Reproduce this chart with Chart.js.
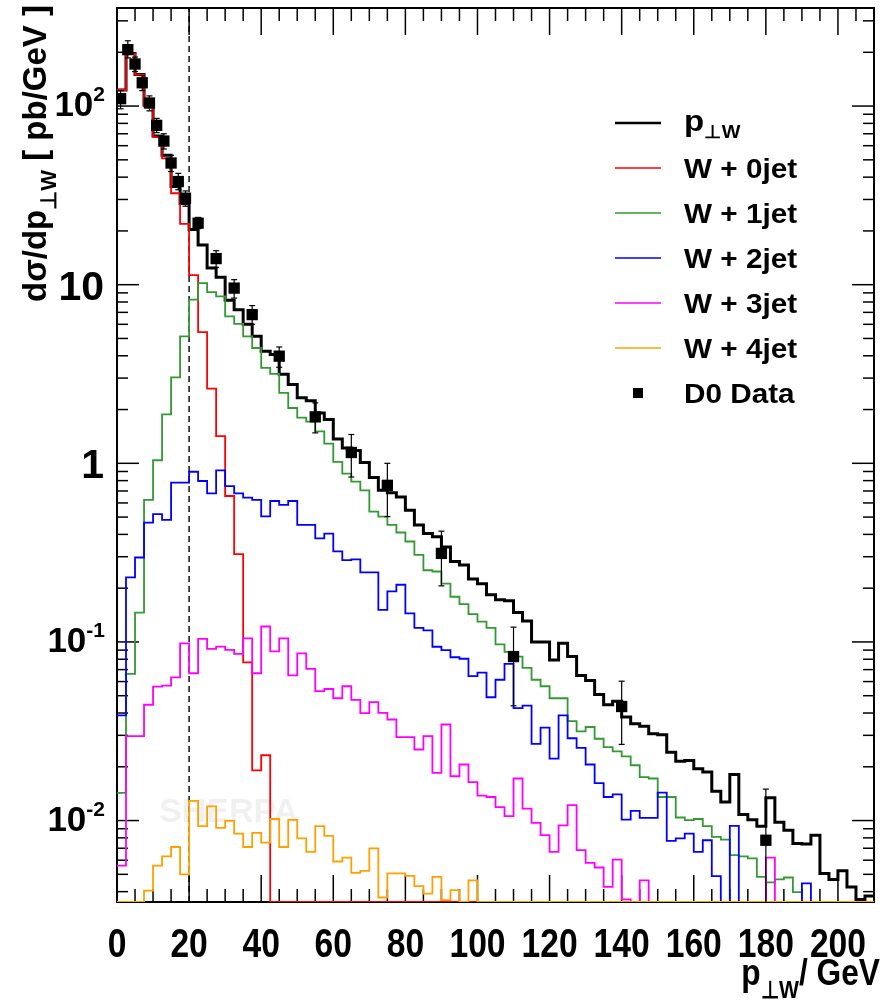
<!DOCTYPE html>
<html>
<head>
<meta charset="utf-8">
<script src="https://cdn.jsdelivr.net/npm/chart.js@4.4.1/dist/chart.umd.min.js"></script>
<style>
  html, body { margin: 0; padding: 0; background: #fff; }
  canvas { display: block; }
</style>
</head>
<body>
<canvas id="chart" width="882" height="1007"></canvas>
<script>
"use strict";

// ビン幅と軸範囲
const BIN_WIDTH = 2.5;
const X_MIN = 0, X_MAX = 210;
const Y_MIN = 0.0035, Y_MAX = 354;

// p_perp W 合計
const totalPt = [
  123, 197, 150, 101, 68, 53, 35.4, 28.5, 20.4, 16.7,
  12.4, 11.0, 8.18, 7.25, 6.0, 5.15, 4.24, 4.07, 3.15, 2.76,
  2.33, 2.24, 1.91, 1.76, 1.37, 1.22, 1.18, 1.01, 0.832, 0.707,
  0.685, 0.648, 0.546, 0.452, 0.404, 0.388, 0.34, 0.282, 0.27, 0.225,
  0.212, 0.184, 0.172, 0.17, 0.146, 0.131, 0.1, 0.1, 0.0793, 0.0982,
  0.0828, 0.0649, 0.0608, 0.0508, 0.0445, 0.0465, 0.038, 0.0348, 0.0337, 0.0306,
  0.0302, 0.0241, 0.0215, 0.0217, 0.0195, 0.0187, 0.0146, 0.0127, 0.0181, 0.0108,
  0.0101, 0.0093, 0.0134, 0.0098, 0.00883, 0.00745, 0.0074, 0.00828, 0.00506, 0.00468,
  0.00523, 0.00425, 0.00362, 0.00378
];
// W + 0jet
const w0jet = [
  123, 196, 150, 100, 67, 51, 32.5, 21.9, 11.3, 5.43,
  2.62, 1.42, 0.656, 0.31, 0.0769, 0.0191, 0.0232, 0, 0, 0,
  0, 0, 0, 0, 0, 0, 0, 0, 0, 0,
  0, 0, 0, 0, 0, 0, 0, 0, 0, 0,
  0, 0, 0, 0, 0, 0, 0, 0, 0, 0,
  0, 0, 0, 0, 0, 0, 0, 0, 0, 0,
  0, 0, 0, 0, 0, 0, 0, 0, 0, 0,
  0, 0, 0, 0, 0, 0, 0, 0, 0, 0,
  0, 0, 0, 0
];
// W + 1jet
const w1jet = [
  0.0143, 0.0662, 0.146, 0.624, 1.04, 1.88, 3.03, 5.14, 8.24, 10.2,
  9.09, 8.6, 6.65, 6.03, 5.14, 4.42, 3.42, 3.17, 2.48, 2.04,
  1.80, 1.71, 1.51, 1.29, 1.02, 0.875, 0.789, 0.706, 0.537, 0.503,
  0.452, 0.41, 0.365, 0.307, 0.252, 0.248, 0.212, 0.179, 0.163, 0.143,
  0.130, 0.12, 0.097, 0.088, 0.0828, 0.0716, 0.0614, 0.0565, 0.0484, 0.0484,
  0.036, 0.0316, 0.0334, 0.0287, 0.0258, 0.0244, 0.0229, 0.0204, 0.0175, 0.0172,
  0.01355, 0.01355, 0.0104, 0.01005, 0.0102, 0.0093, 0.0081, 0.00783, 0.0064, 0.0063,
  0.00614, 0.00484, 0.00451, 0.00468, 0.0048, 0.00398, 0, 0, 0, 0,
  0, 0, 0, 0
];
// W + 2jet
const w2jet = [
  0.0388, 0.23, 0.297, 0.466, 0.519, 0.482, 0.78, 0.78, 0.897, 0.796,
  0.679, 0.914, 0.746, 0.679, 0.643, 0.624, 0.504, 0.615, 0.585, 0.615,
  0.452, 0.452, 0.38, 0.404, 0.321, 0.287, 0.29, 0.245, 0.245, 0.151,
  0.192, 0.209, 0.1445, 0.12, 0.116, 0.094, 0.090, 0.0821, 0.0805, 0.0644,
  0.0674, 0.049, 0.0614, 0.0754, 0.0426, 0.044, 0.0269, 0.0331, 0.0222, 0.0388,
  0.0289, 0.0255, 0.0206, 0.0162, 0.01355, 0.0140, 0.01013, 0.01132, 0.01035, 0.01035,
  0.01432, 0.00769, 0.00794, 0.00846, 0.00668, 0.00776, 0.00489, 0, 0.00933, 0,
  0, 0, 0, 0, 0, 0, 0.00445, 0, 0, 0,
  0, 0, 0, 0
];
// W + 3jet
const w3jet = [
  0.0056, 0.0297, 0.0297, 0.0445, 0.0562, 0.057, 0.0634, 0.0982, 0.0668, 0.104,
  0.0914, 0.0942, 0.0902, 0.0857, 0.1048, 0.0668, 0.122, 0.0886, 0.1048, 0.0649,
  0.0863, 0.0707, 0.053, 0.0545, 0.0484, 0.0565, 0.0474, 0.0399, 0.046, 0.0401,
  0.0368, 0.0293, 0.0293, 0.025, 0.0297, 0.0185, 0.0345, 0.0177, 0.0206, 0.0164,
  0.0138, 0.01355, 0.0119, 0.0106, 0.0172, 0.01167, 0.0097, 0.00828, 0.00668, 0.0094,
  0.0122, 0.00683, 0.0058, 0.00546, 0.00425, 0.00605, 0.00362, 0, 0.00463, 0,
  0, 0, 0, 0, 0, 0, 0, 0, 0, 0,
  0, 0, 0.0062, 0, 0, 0, 0, 0, 0, 0,
  0, 0, 0, 0
];
// W + 4jet
const w4jet = [
  0, 0, 0, 0.00405, 0.0056, 0.0063, 0.00711, 0.005, 0.0129, 0.0093,
  0.012, 0.0091, 0.00995, 0.00846, 0.00711, 0.00853, 0.00753, 0.0102, 0.00711, 0.0101,
  0.00794, 0.00668, 0.0093, 0.0082, 0.0059, 0.0062, 0.0051, 0.00523, 0.00698, 0.00371,
  0.00506, 0.00506, 0.0049, 0.0043, 0.0039, 0.00484, 0.00359, 0.00408, 0, 0.00463,
  0, 0, 0, 0, 0, 0, 0, 0, 0, 0,
  0, 0, 0, 0, 0, 0, 0, 0, 0, 0,
  0, 0, 0, 0, 0, 0, 0, 0, 0, 0,
  0, 0, 0, 0, 0, 0, 0, 0, 0, 0,
  0, 0, 0, 0
];

// D0 データ点と誤差
const d0X  = [1, 3, 5, 7, 9, 11, 13, 15, 17, 19, 22.5, 27.5, 32.5, 37.5, 45, 55, 65, 75, 90, 110, 140, 180];
const d0Y  = [110, 207, 172, 135, 104, 78, 63.7, 48, 37.8, 30.5, 22.1, 14.0, 9.57, 6.8, 3.98, 1.82, 1.15, 0.753, 0.313, 0.0828, 0.0435, 0.00776];
const d0Hi = [122, 232, 188, 148, 114, 85.3, 70, 53, 42, 33.5, 23.8, 15.5, 10.67, 7.64, 4.48, 2.18, 1.45, 1.0, 0.417, 0.121, 0.0603, 0.0150];
const d0Lo = [96.5, 186, 156, 122, 94, 71, 57.5, 43, 34, 27.5, 20.6, 12.5, 8.41, 6.0, 3.45, 1.48, 0.838, 0.503, 0.206, 0.0439, 0.0267, 0];

// 目盛りラベル
const xLabelValues = [0, 20, 40, 60, 80, 100, 120, 140, 160, 180, 200];
const yLabelValues = [100, 10, 1, 0.1, 0.01];
const yLabelBase   = ["10", "10", "1", "10", "10"];
const yLabelSup    = ["2", "", "", "-1", "-2"];

// 凡例
const legendNames  = ["p", "W + 0jet", "W + 1jet", "W + 2jet", "W + 3jet", "W + 4jet", "D0 Data"];
const seriesColors = ["#000000", "#ff0000", "#339933", "#0000ff", "#ff00ff", "#ffa000"];

const FONT = "'Liberation Sans', Arial, sans-serif";

// ヒストグラム -> 階段状の点列 (各ビンの左端に値を置く)
function toSteps(values) {
  const pts = values.map((v, i) => ({ x: X_MIN + i * BIN_WIDTH, y: v > 0 ? v : Y_MIN }));
  const last = values[values.length - 1];
  pts.push({ x: X_MIN + values.length * BIN_WIDTH, y: last > 0 ? last : Y_MIN });
  return pts;
}

function histDataset(label, values, color, width) {
  return {
    label: label,
    data: toSteps(values),
    borderColor: color,
    backgroundColor: color,
    borderWidth: width,
    stepped: "before",
    pointRadius: 0,
    fill: false
  };
}

// 添字つき文字列を描く
function drawRich(ctx, segs, x, y, align, sx) {
  sx = sx || 1;
  let w = 0;
  segs.forEach(s => { ctx.font = s.font; w += ctx.measureText(s.text).width; });
  ctx.save();
  ctx.translate(x, y);
  ctx.scale(sx, 1);
  let cx = align === "right" ? -w : (align === "center" ? -w / 2 : 0);
  ctx.textAlign = "left";
  ctx.textBaseline = "alphabetic";
  segs.forEach(s => {
    ctx.font = s.font;
    ctx.fillText(s.text, cx, s.dy || 0);
    cx += ctx.measureText(s.text).width;
  });
  ctx.restore();
  return w * sx;
}

function line(ctx, x1, y1, x2, y2) {
  ctx.beginPath();
  ctx.moveTo(x1, y1);
  ctx.lineTo(x2, y2);
  ctx.stroke();
}

// 枠・目盛り・透かし
const framePlugin = {
  id: "frame",
  beforeDraw(chart) {
    const ctx = chart.ctx;
    ctx.save();
    ctx.fillStyle = "#fff";
    ctx.fillRect(0, 0, chart.width, chart.height);
    ctx.restore();
  },
  beforeDatasetsDraw(chart) {
    const ctx = chart.ctx;
    const { left, right, top, bottom } = chart.chartArea;
    const xs = chart.scales.x, ys = chart.scales.y;
    ctx.save();
    // 透かし
    ctx.fillStyle = "rgba(0,0,0,0.06)";
    ctx.font = "bold 34px " + FONT;
    ctx.fillText("SHERPA", 159, 822);

    ctx.strokeStyle = "#000";
    ctx.lineWidth = 2;
    ctx.strokeRect(left, top, right - left, bottom - top);
    ctx.lineWidth = 1.5;
    for (let v = X_MIN; v <= X_MAX; v += 5) {
      const px = xs.getPixelForValue(v);
      const len = v % 20 === 0 ? 27 : 13;
      line(ctx, px, bottom, px, bottom - len);
      line(ctx, px, top, px, top + len);
    }
    for (let k = -3; k <= 2; k++) {
      for (let m = 1; m <= 9; m++) {
        const v = m * Math.pow(10, k);
        if (v < Y_MIN || v > Y_MAX) continue;
        const py = ys.getPixelForValue(v);
        const len = m === 1 ? 22 : 11;
        line(ctx, left, py, left + len, py);
        line(ctx, right, py, right - len, py);
      }
    }
    ctx.restore();
  },
  afterDatasetsDraw(chart) {
    const ctx = chart.ctx;
    const { bottom } = chart.chartArea;
    const xs = chart.scales.x, ys = chart.scales.y;
    ctx.save();
    // 誤差棒
    ctx.strokeStyle = "#000";
    ctx.lineWidth = 1.2;
    d0X.forEach((xv, i) => {
      const px = xs.getPixelForValue(xv);
      const hi = ys.getPixelForValue(d0Hi[i]);
      const lo = d0Lo[i] > 0 ? ys.getPixelForValue(d0Lo[i]) : bottom;
      line(ctx, px, hi, px, lo);
      line(ctx, px - 3, hi, px + 3, hi);
      if (d0Lo[i] > 0) line(ctx, px - 3, lo, px + 3, lo);
    });

    ctx.fillStyle = "#000";
    // y 目盛りラベル (指数つきは少し小さく)
    yLabelValues.forEach((v, i) => {
      const py = ys.getPixelForValue(v);
      if (yLabelSup[i]) {
        drawRich(ctx, [
          { text: yLabelBase[i], font: "bold 35px " + FONT },
          { text: yLabelSup[i], font: "bold 21px " + FONT, dy: -15 }
        ], 105, py + 10, "right", 1);
      } else {
        drawRich(ctx, [{ text: yLabelBase[i], font: "bold 41px " + FONT }], 104, py + 15, "right", 1);
      }
    });
    // x 目盛りラベル
    xLabelValues.forEach(v => {
      const px = xs.getPixelForValue(v);
      drawRich(ctx, [{ text: String(v), font: "bold 41px " + FONT }], px, 957, "center", 0.82);
    });
    // x 軸タイトル
    drawRich(ctx, [
      { text: "p", font: "bold 36px " + FONT },
      { text: "\u22a5W", font: "bold 24px " + FONT, dy: 13 },
      { text: "/ GeV", font: "bold 36px " + FONT }
    ], 880, 985, "right", 0.88);
    // y 軸タイトル
    ctx.save();
    ctx.translate(46, 5);
    ctx.rotate(-Math.PI / 2);
    drawRich(ctx, [
      { text: "d\u03c3/dp", font: "bold 33px " + FONT },
      { text: "\u22a5W", font: "bold 22px " + FONT, dy: 10 },
      { text: " [ pb/GeV ]", font: "bold 33px " + FONT }
    ], 0, 0, "right", 1);
    ctx.restore();

    // 凡例
    legendNames.forEach((name, i) => {
      const cy = 123 + 45 * i;
      if (i < seriesColors.length) {
        ctx.strokeStyle = seriesColors[i];
        ctx.lineWidth = i === 0 ? 2.5 : 1.5;
        line(ctx, 615, cy, 661, cy);
      } else {
        ctx.fillRect(633, cy - 5, 10, 10);
      }
      if (i === 0) {
        drawRich(ctx, [
          { text: "p", font: "bold 30px " + FONT },
          { text: "\u22a5W", font: "bold 18px " + FONT, dy: 7 }
        ], 684, cy + 8, "left", 1.1);
      } else {
        drawRich(ctx, [{ text: name, font: "bold 27px " + FONT }], 684, cy + 10, "left", 1.1);
      }
    });
    ctx.restore();
  }
};

const datasets = [
  {
    label: "D0 Data",
    data: d0X.map((x, i) => ({ x: x, y: d0Y[i] })),
    showLine: false,
    pointStyle: "rect",
    pointRadius: 8,
    pointHoverRadius: 8,
    pointBackgroundColor: "#000",
    pointBorderWidth: 0,
    borderColor: "#000"
  },
  histDataset("W + 4jet", w4jet, seriesColors[5], 1.8),
  histDataset("W + 3jet", w3jet, seriesColors[4], 1.8),
  histDataset("W + 2jet", w2jet, seriesColors[3], 1.8),
  histDataset("W + 1jet", w1jet, seriesColors[2], 1.8),
  histDataset("W + 0jet", w0jet, seriesColors[1], 1.8),
  histDataset("pT W", totalPt, seriesColors[0], 3),
  {
    label: "cut",
    data: [{ x: 20, y: Y_MIN }, { x: 20, y: Y_MAX }],
    borderColor: "#000",
    borderWidth: 1.4,
    borderDash: [6, 4],
    pointRadius: 0
  }
];

const ctx = document.getElementById("chart");
new Chart(ctx, {
  type: "line",
  data: { datasets: datasets },
  options: {
    responsive: false,
    animation: false,
    devicePixelRatio: 1,
    layout: { padding: { left: 117, right: 1, top: 6, bottom: 105 } },
    plugins: { legend: { display: false }, tooltip: { enabled: false } },
    scales: {
      x: { type: "linear", min: X_MIN, max: X_MAX, display: false },
      y: { type: "logarithmic", min: Y_MIN, max: Y_MAX, display: false }
    }
  },
  plugins: [framePlugin]
});
</script>
</body>
</html>
